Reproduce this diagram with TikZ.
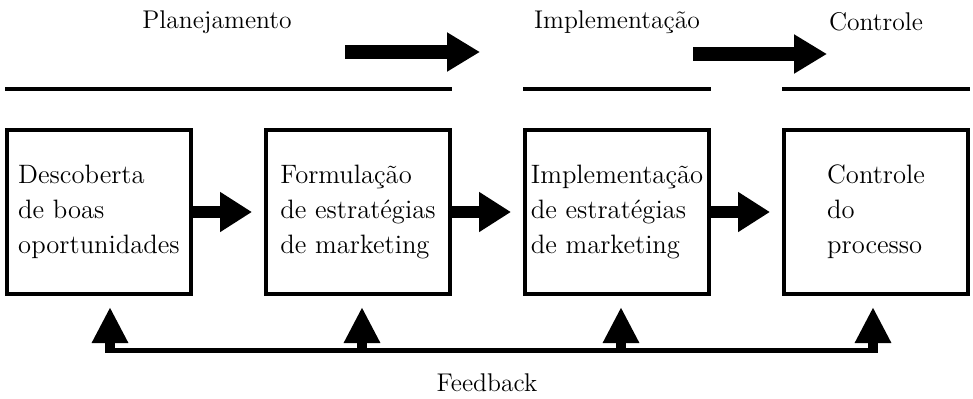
\documentclass[tikz,border=0pt]{standalone}
\usepackage{tikz}
\usetikzlibrary{positioning,arrows.meta}
\newcommand{\stagefont}{\fontsize{13.3}{17.5}\selectfont}
\newcommand{\phasefont}{\fontsize{12.8}{15}\selectfont}
\tikzset{
  stagebox/.style={draw=black,line width=2pt,minimum width=92pt,
    minimum height=82pt,align=left,inner sep=2pt,font=\stagefont},
  phaselbl/.style={font=\phasefont,inner sep=0pt},
  phaseline/.style={line width=2pt},
  bigarrow/.style={-{Triangle[length=16pt,width=19pt]},line width=6pt},
  toparrow/.style={-{Triangle[length=16.5pt,width=18.5pt]},line width=7pt},
  fbarrow/.style={-{Triangle[length=18pt,width=17pt]},line width=5pt},
  fbline/.style={line width=2.5pt},
}
\begin{document}
\begin{tikzpicture}[x=0.5pt,y=-0.5pt,node distance=35.5pt]
  \useasboundingbox (0,0) rectangle (973,398);
  % stages
  \node[stagebox] (desc) at (99,212) {Descoberta\\de boas\\oportunidades};
  \node[stagebox,right=of desc] (form) {Formulação\\de estratégias\\de marketing};
  \node[stagebox,right=of form] (impl) {Implementação\\de estratégias\\de marketing};
  \node[stagebox,right=of impl] (ctrl) {Controle\\do\\processo};
  \path (desc) edge[bigarrow,shorten >=6pt] (form)
        (form) edge[bigarrow,shorten >=6pt] (impl)
        (impl) edge[bigarrow,shorten >=6pt] (ctrl);
  % phases on top
  \node[phaselbl] (plan) at (217,22) {Planejamento};
  \node[phaselbl] (implt) at (617,22) {Implementação};
  \node[phaselbl] (ctrlt) at (876,22) {Controle};
  \coordinate (topline) at (0,89);
  \draw[phaseline] (desc.west |- topline) -- (form.east |- topline);
  \draw[phaseline] (impl.west |- topline) -- (impl.east |- topline);
  \draw[phaseline] (ctrl.west |- topline) -- (ctrl.east |- topline);
  \coordinate (pa) at (345,52);
  \coordinate (pb) at (480,52);
  \coordinate (ia) at (693,54);
  \coordinate (ib) at (827,54);
  \draw[toparrow] (pa) -- (pb);
  \draw[toparrow] (ia) -- (ib);
  % feedback loop
  \coordinate (fb1) at (110,350);
  \coordinate (fb2) at (362,350);
  \coordinate (fb3) at (621,350);
  \coordinate (fb4) at (873,350);
  \draw[fbline] ([xshift=-2.5pt]fb1) -- ([xshift=2.5pt]fb4);
  \foreach \b/\f in {desc/fb1,form/fb2,impl/fb3,ctrl/fb4}
    \draw[fbarrow,shorten >=5.5pt] ([yshift=-1.25pt]\f) -- (\f |- \b.south);
  \node[phaselbl] (fback) at (487,383) {Feedback};
\end{tikzpicture}
\end{document}
